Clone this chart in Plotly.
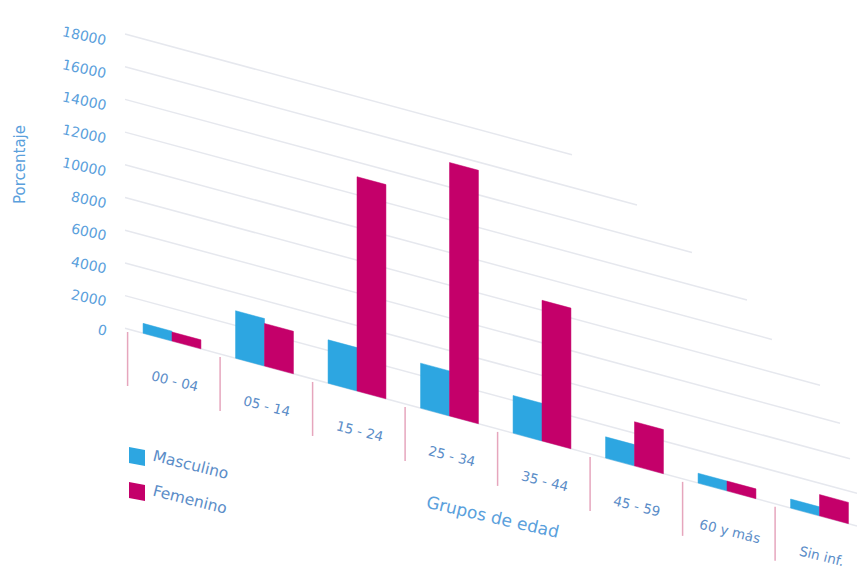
import plotly.graph_objects as go

# Age groups and counts per sex
grupos = ["00 - 04", "05 - 14", "15 - 24", "25 - 34", "35 - 44", "45 - 59", "60 y más", "Sin inf."]
masculino = [600, 2900, 2650, 2750, 2300, 1300, 600, 550]
femenino = [550, 2600, 13100, 15500, 8600, 2700, 600, 1300]
ticks = [0, 2000, 4000, 6000, 8000, 10000, 12000, 14000, 16000, 18000]

AZUL = "#2DA6E1"
MAGENTA = "#C4006A"
TXT_TICK = "#5AA0DC"
TXT_CAT = "#5B8DC8"
FONT = "DejaVu Sans"

W, H = 857, 568
PX_CAT = 92.5          # pixels per category step
VAL_PX = 61.16         # value units per vertical pixel
SKEW = 0.27            # downward slope of the floor (px per px)
X0_PX = 172            # pixel column of the first category
Y0_PX = 341            # pixel row of the base of the first category
S = SKEW * PX_CAT * VAL_PX   # drop of the baseline per category, in value units

BAR_W = 0.313
x_start = (125 - X0_PX) / PX_CAT
# right end (pixel column) of each wall gridline, the wall edge cuts them off
grid_end_px = [857, 857, 850, 840, 820, 772, 747, 692, 637, 572]


def base(x):
    return -S * x


def px_to_val(dpx):
    return dpx * VAL_PX


fig = go.Figure()

# skewed back-wall gridlines
for v, end_px in zip(ticks, grid_end_px):
    xe = (end_px - X0_PX) / PX_CAT
    fig.add_trace(go.Scatter(
        x=[x_start, xe], y=[v + base(x_start), v + base(xe)],
        mode="lines", line=dict(color="#E6E8EE", width=1.5),
        hoverinfo="skip", showlegend=False))

# category separators
for i in range(len(grupos)):
    xs = i - 0.48
    fig.add_trace(go.Scatter(
        x=[xs, xs], y=[base(xs) - px_to_val(3), base(xs) - px_to_val(57)],
        mode="lines", line=dict(color="#E6A6BD", width=1.5),
        hoverinfo="skip", showlegend=False))


def bar(x0, x1, v, color, name):
    return go.Scatter(
        x=[x0, x1, x1, x0, x0],
        y=[base(x0), base(x1), base(x1) + v, base(x0) + v, base(x0)],
        mode="lines", fill="toself", fillcolor=color,
        line=dict(color=color, width=0.5), name=name,
        hoveron="fills", showlegend=False)


for i, (m, f) in enumerate(zip(masculino, femenino)):
    fig.add_trace(bar(i - BAR_W, i, m, AZUL, "Masculino"))
    fig.add_trace(bar(i, i + BAR_W, f, MAGENTA, "Femenino"))

ann = []

# value labels on the wall
for v in ticks:
    ann.append(dict(
        x=x_start, y=v + base(x_start), xref="x", yref="y",
        text=f"{v}", showarrow=False, xanchor="right", yanchor="middle",
        xshift=-14, yshift=-2, textangle=12,
        font=dict(family=FONT, size=14, color=TXT_TICK)))

# category labels
for i, g in enumerate(grupos):
    xc = i + 0.03
    ann.append(dict(
        x=xc, y=base(xc) - px_to_val(39), xref="x", yref="y",
        text=g, showarrow=False, xanchor="center", yanchor="middle",
        textangle=14, font=dict(family=FONT, size=13.5, color=TXT_CAT)))


def px(x):
    return x / W


def py(y):
    return 1 - y / H


ann.append(dict(x=px(20), y=py(165), xref="paper", yref="paper",
                xanchor="center", yanchor="middle",
                text="Porcentaje", showarrow=False, textangle=-90,
                font=dict(family=FONT, size=15, color=TXT_TICK)))
ann.append(dict(x=px(493), y=py(517), xref="paper", yref="paper",
                xanchor="center", yanchor="middle",
                text="Grupos de edad", showarrow=False, textangle=13,
                font=dict(family=FONT, size=17, color=TXT_TICK)))

# legend
shapes = []
for label, color, yc in [("Masculino", AZUL, 455), ("Femenino", MAGENTA, 490)]:
    x0, x1 = 129, 145
    d = 3
    path = (f"M {px(x0)} {py(yc - 8)} L {px(x1)} {py(yc - 8 + d)} "
            f"L {px(x1)} {py(yc + 8 + d)} L {px(x0)} {py(yc + 8)} Z")
    shapes.append(dict(type="path", xref="paper", yref="paper", path=path,
                       fillcolor=color, line=dict(width=0)))
    ann.append(dict(x=px(149), y=py(yc + 10), xref="paper", yref="paper",
                    text=label, showarrow=False, xanchor="left", yanchor="middle",
                    textangle=14, font=dict(family=FONT, size=15.5, color=TXT_CAT)))

fig.update_layout(
    width=W, height=H,
    margin=dict(l=0, r=0, t=0, b=0),
    paper_bgcolor="white", plot_bgcolor="white",
    showlegend=False,
    xaxis=dict(visible=False, range=[-X0_PX / PX_CAT, (W - X0_PX) / PX_CAT], fixedrange=True),
    yaxis=dict(visible=False, range=[px_to_val(-(H - Y0_PX)), px_to_val(Y0_PX)], fixedrange=True),
    annotations=ann, shapes=shapes,
)

fig.write_html("out.html")
